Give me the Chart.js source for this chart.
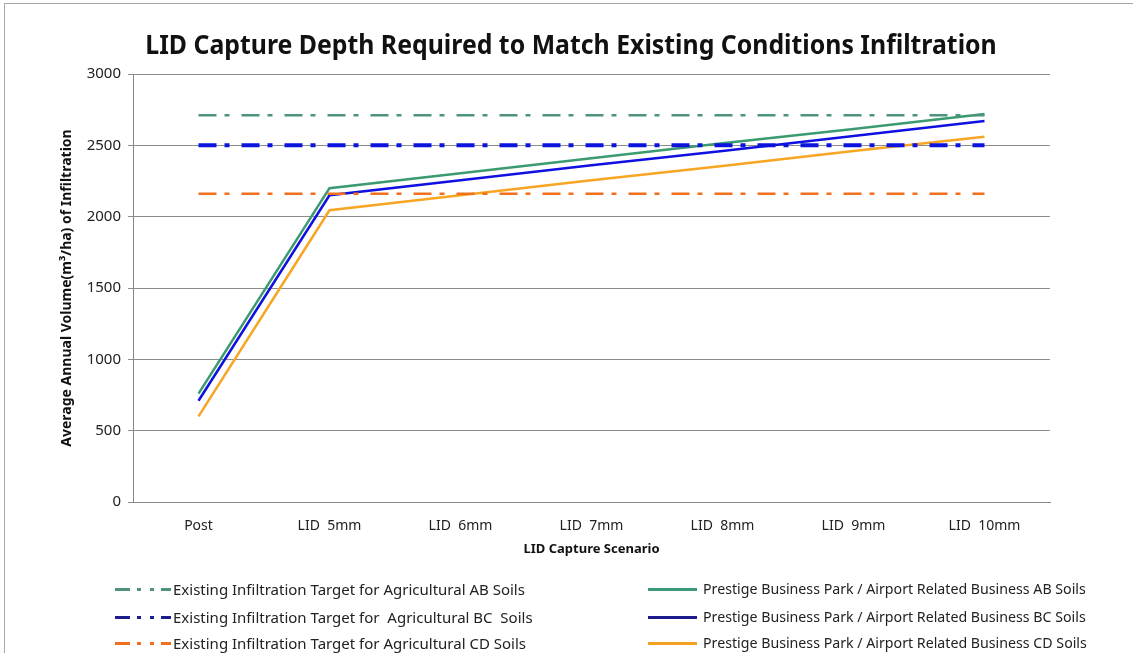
<!DOCTYPE html>
<html>
<head>
<meta charset="utf-8">
<script src="https://cdn.jsdelivr.net/npm/chart.js@4.4.1/dist/chart.umd.min.js"></script>
<style>
body{margin:0;background:#fff;}
#wrap{position:relative;width:1133px;height:653px;overflow:hidden;font-family:"Noto Sans",sans-serif;}
#frame{position:absolute;left:4px;top:3px;width:1160px;height:700px;border:1px solid #a8a8a8;}
#c{position:absolute;left:0;top:0;}
#title{position:absolute;left:0;top:30px;width:1142px;text-align:center;font-weight:bold;font-size:27px;line-height:28px;color:#111;transform:scaleX(0.92);transform-origin:571px 0;}
.lg{position:absolute;height:20px;line-height:20px;color:#222;white-space:pre;}
.lg svg{position:absolute;top:0;}
</style>
</head>
<body>
<div id="wrap">
  <div id="frame"></div>
  <canvas id="c" width="1133" height="653"></canvas>
  <div id="title">LID Capture Depth Required to Match Existing Conditions Infiltration</div>
  <div id="legend"></div>
</div>
<script>
// categories
const labels = ['Post', 'LID  5mm', 'LID  6mm', 'LID  7mm', 'LID  8mm', 'LID  9mm', 'LID  10mm'];

// target lines (flat)
const targetAB = [2710, 2710, 2710, 2710, 2710, 2710, 2710];
const targetBC = [2500, 2500, 2500, 2500, 2500, 2500, 2500];
const targetCD = [2160, 2160, 2160, 2160, 2160, 2160, 2160];

// prestige business park series
const parkAB = [760, 2200, 2305, 2410, 2515, 2615, 2720];
const parkBC = [710, 2150, 2255, 2360, 2460, 2565, 2670];
const parkCD = [600, 2045, 2150, 2255, 2355, 2460, 2560];

const yTicks = [0, 500, 1000, 1500, 2000, 2500, 3000];

const dashDot = [18, 8, 5, 12];
const FONT = '"Noto Sans", sans-serif';

const datasets = [
  {label: 'Existing Infiltration Target for Agricultural AB Soils', data: targetAB, borderColor: '#4f937c', borderWidth: 2.5, borderDash: dashDot, legendColor: '#4f937c', dashed: true},
  {label: 'Existing Infiltration Target for  Agricultural BC  Soils', data: targetBC, borderColor: '#0a14dc', borderWidth: 4, borderDash: dashDot, legendColor: '#1c1c8c', dashed: true},
  {label: 'Existing Infiltration Target for Agricultural CD Soils', data: targetCD, borderColor: '#f0701e', borderWidth: 2.5, borderDash: dashDot, legendColor: '#f0701e', dashed: true},
  {label: 'Prestige Business Park / Airport Related Business AB Soils', data: parkAB, borderColor: '#3a9a70', borderWidth: 2.5, legendColor: '#3a9a78'},
  {label: 'Prestige Business Park / Airport Related Business BC Soils', data: parkBC, borderColor: '#1010e0', borderWidth: 2.5, legendColor: '#1c1c8c'},
  {label: 'Prestige Business Park / Airport Related Business CD Soils', data: parkCD, borderColor: '#f8a524', borderWidth: 2.5, legendColor: '#f5a020'}
];
datasets.forEach(d => { d.pointRadius = 0; d.tension = 0; d.fill = false; });

new Chart(document.getElementById('c'), {
  type: 'line',
  data: {labels: labels, datasets: datasets},
  options: {
    responsive: false,
    animation: false,
    layout: {padding: {left: 53, right: 83, top: 74, bottom: 91}},
    plugins: {legend: {display: false}, title: {display: false}, tooltip: {enabled: false}},
    scales: {
      x: {
        offset: true,
        grid: {display: false, drawTicks: false},
        border: {display: true, color: '#888888', width: 1},
        ticks: {color: '#222', font: {family: FONT, size: 14}, padding: 16, maxRotation: 0, autoSkip: false},
        title: {display: true, text: 'LID Capture Scenario', color: '#111', font: {family: FONT, size: 13, weight: 'bold'}, padding: {top: 0, bottom: 5}},
        afterFit: s => { s.height = 60; }
      },
      y: {
        min: 0, max: 3000,
        afterBuildTicks: s => { s.ticks = yTicks.map(v => ({value: v})); },
        grid: {color: '#8c8c8c', lineWidth: 1, tickLength: 5},
        border: {display: true, color: '#888888', width: 1},
        ticks: {color: '#222', font: {family: FONT, size: 15}, padding: 7, callback: v => String(v)},
        title: {display: true, text: 'Average Annual Volume(m\u00B3/ha) of Infiltration', color: '#111', font: {family: FONT, size: 14, weight: 'bold'}, padding: {top: 6, bottom: 0}},
        afterFit: s => { s.width = 80; }
      }
    }
  }
});

// legend in two columns, three rows
const legend = document.getElementById('legend');
const rowsY = [579, 607, 633];
datasets.forEach((d, i) => {
  const col = i < 3 ? 0 : 1;
  const row = i % 3;
  const el = document.createElement('div');
  el.className = 'lg';
  const sampleLeft = col === 0 ? 115 : 648;
  const sampleW = col === 0 ? 56 : 49;
  const textLeft = col === 0 ? 173 : 703;
  el.style.left = sampleLeft + 'px';
  el.style.top = rowsY[row] + 'px';
  el.style.fontSize = (col === 0 ? 15 : 14.2) + 'px';
  el.style.paddingLeft = (textLeft - sampleLeft) + 'px';
  const dash = d.dashed ? 'stroke-dasharray="15 7 4 9 4 7"' : '';
  el.innerHTML = '<svg width="' + sampleW + '" height="20" style="left:0"><line x1="0" y1="10.5" x2="' + sampleW + '" y2="10.5" stroke="' + d.legendColor + '" stroke-width="3" ' + dash + '/></svg>' + d.label;
  legend.appendChild(el);
});
</script>
</body>
</html>
